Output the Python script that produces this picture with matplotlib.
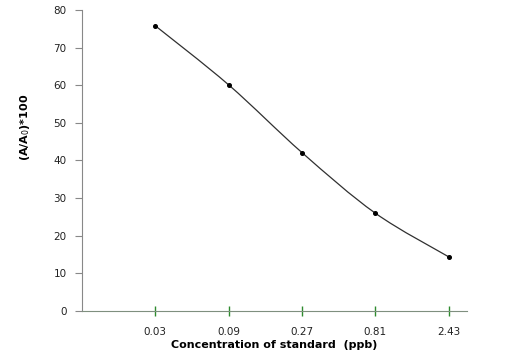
import matplotlib.pyplot as plt
from matplotlib.path import Path
from matplotlib.patches import PathPatch

# concentration of standard (ppb) and (A/A0)*100
concentrations = ['0.03', '0.09', '0.27', '0.81', '2.43']
values = [75.8, 60.1, 42.1, 26.0, 14.4]
y_ticks = [0, 10, 20, 30, 40, 50, 60, 70, 80]

x = list(range(1, len(values) + 1))

fig = plt.figure(figsize=(5.3, 3.62), dpi=100)
ax = fig.add_axes([0.1547, 0.1409, 0.7264, 0.8315])

# smoothed line (catmull-rom converted to bezier segments, drawn in data coords)
verts = [(x[0], values[0])]
codes = [Path.MOVETO]
n = len(x)
for i in range(n - 1):
    p0 = (x[max(i - 1, 0)], values[max(i - 1, 0)])
    p1 = (x[i], values[i])
    p2 = (x[i + 1], values[i + 1])
    p3 = (x[min(i + 2, n - 1)], values[min(i + 2, n - 1)])
    c1 = (p1[0] + (p2[0] - p0[0]) / 6, p1[1] + (p2[1] - p0[1]) / 6)
    c2 = (p2[0] - (p3[0] - p1[0]) / 6, p2[1] - (p3[1] - p1[1]) / 6)
    verts += [c1, c2, p2]
    codes += [Path.CURVE4] * 3
ax.add_patch(PathPatch(Path(verts, codes), facecolor='none', edgecolor='#303030', lw=0.9))
ax.plot(x, values, 'o', color='black', markersize=2.6)

ax.set_xlim(0, 5.25)
ax.set_ylim(0, 80)
ax.set_yticks(y_ticks)
ax.set_xticks(x)
ax.set_xticklabels(concentrations)

for s in ['top', 'right']:
    ax.spines[s].set_visible(False)
ax.spines['left'].set_color('#888888')
ax.spines['bottom'].set_color('#7f8f7f')
ax.tick_params(axis='y', direction='out', length=5, color='#888888', labelsize=7.5, pad=6,
               labelcolor='#222222')
ax.tick_params(axis='x', direction='inout', length=7, width=1.0, color='#2e8b2e', labelsize=7.5,
               pad=8, labelcolor='#222222')
for t in ax.xaxis.get_major_ticks():
    t.tick1line.set_zorder(5)
    t.tick1line.set_color('#2e8b2e')

ax.set_ylabel('(A/A$_0$)*100', fontsize=8, fontweight='bold')
ax.yaxis.set_label_coords(-0.13, 0.61)
ax.set_xlabel('Concentration of standard  (ppb)', fontsize=8, fontweight='bold', labelpad=2)

fig.savefig('out.png', dpi=100)
